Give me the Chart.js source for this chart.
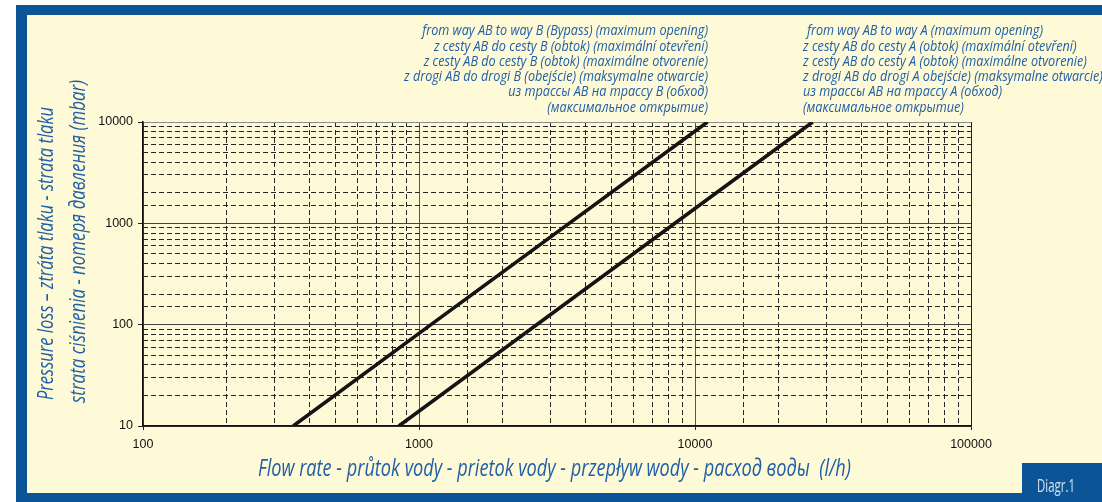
<!DOCTYPE html>
<html>
<head>
<meta charset="utf-8">
<script src="https://cdn.jsdelivr.net/npm/chart.js@4"></script>
<style>
html, body { margin: 0; padding: 0; background: #fff; }
#wrap { position: relative; width: 1102px; height: 502px; overflow: hidden; background: #fff; }
.panel { position: absolute; left: 16px; top: 5px; width: 1086px; height: 497px; background: #fef9d6; }
.bar { position: absolute; background: #0b5596; }
#chart { position: absolute; left: 0; top: 0; }
.txt { position: absolute; left: 0; top: 0; white-space: pre; font-family: "Open Sans", sans-serif;
       font-style: italic; color: #1f5fa6; transform-origin: 0 0; }
</style>
</head>
<body>
<div id="wrap">
  <div class="panel"></div>
  <div class="bar" style="left:16px;top:5px;width:1086px;height:10px"></div>
  <div class="bar" style="left:16px;top:5px;width:11px;height:497px"></div>
  <div class="bar" style="left:16px;top:493px;width:1086px;height:9px"></div>
  <div class="bar" style="left:1022px;top:463px;width:80px;height:39px"></div>
  <canvas id="chart" width="1102" height="502"></canvas>
</div>
<script>
// pressure loss curves (flow l/h, loss mbar)
const flowB = [350, 1000, 11100];   // AB -> B (bypass)
const lossB = [10, 82, 10000];
const flowA = [845, 10000, 26700];  // AB -> A
const lossA = [10, 1400, 10000];

const xMajor = [100, 1000, 10000, 100000];
const yMajor = [10, 100, 1000, 10000];

const xTitle = "Flow rate - průtok vody - prietok vody - przepływ wody - расход воды  (l/h)";
const yTitle = ["Pressure loss – ztráta tlaku - strata tlaku",
                "strata ciśnienia - потеря давления (mbar)"];
const notesB = ["from way AB to way B (Bypass) (maximum opening)",
                "z cesty AB do cesty B (obtok) (maximální otevření)",
                "z cesty AB do cesty B (obtok) (maximálne otvorenie)",
                "z drogi AB do drogi B (obejście) (maksymalne otwarcie)",
                "из трассы AB на трассу B (обход)",
                "(максимальное открытие)"];
const notesA = ["from way AB to way A (maximum opening)",
                "z cesty AB do cesty A (obtok) (maximální otevření)",
                "z cesty AB do cesty A (obtok) (maximálne otvorenie)",
                "z drogi AB do drogi A obejście) (maksymalne otwarcie)",
                "из трассы AB на трассу A (обход)",
                "(максимальное открытие)"];

const wrap = document.getElementById("wrap");

function makeText(str, size, italic) {
    const el = document.createElement("div");
    el.className = "txt";
    el.textContent = str;
    el.style.fontSize = size + "px";
    el.style.lineHeight = size + "px";
    if (!italic) el.style.fontStyle = "normal";
    wrap.appendChild(el);
    const c = document.createElement("canvas").getContext("2d");
    c.font = (italic ? "italic " : "") + size + 'px "Open Sans"';
    const m = c.measureText("Hg");
    el.base = (size - m.fontBoundingBoxAscent - m.fontBoundingBoxDescent) / 2 + m.fontBoundingBoxAscent;
    el.w = el.getBoundingClientRect().width;
    return el;
}

function place(el, x, baseline, s, align) {
    const left = align === "right" ? x - el.w * s : x;
    el.style.transform = `translate(${left}px, ${baseline - el.base}px) scaleX(${s})`;
}

// annotation blocks above the plot
const noteSize = 14;
const nb = notesB.map(t => makeText(t, noteSize, true));
const na = notesA.map(t => makeText(t, noteSize, true));
const noteScale = 304 / nb[3].w;
nb.forEach((el, i) => place(el, 708, 35.7 + 15.3 * i, noteScale, "right"));
na.forEach((el, i) => place(el, i === 0 ? 807 : 803, 35.7 + 15.3 * i, noteScale, "left"));

// x axis title
const xt = makeText(xTitle, 23, true);
place(xt, 258, 476.7, 593 / xt.w, "left");

// y axis title, two rotated lines
[[yTitle[0], 53, 400, 293], [yTitle[1], 85, 403, 323]].forEach(([t, bx, sy, len]) => {
    const el = makeText(t, 21, true);
    el.style.transform = `translate(${bx - el.base}px, ${sy}px) rotate(-90deg) scaleX(${len / el.w})`;
});

// figure tag
const tag = makeText("Diagr.1", 19, false);
tag.style.color = "#d5e3f1";
place(tag, 1037, 492, 38 / tag.w, "left");

const tickFont = { family: "'Liberation Sans', Arial, sans-serif", size: 12.5 };

const config = {
    type: "scatter",
    data: {
        datasets: [
            {
                label: "AB - B",
                data: flowB.map((x, i) => ({ x: x, y: lossB[i] })),
                showLine: true,
                borderColor: "#141414",
                borderWidth: 3.6,
                pointRadius: 0
            },
            {
                label: "AB - A",
                data: flowA.map((x, i) => ({ x: x, y: lossA[i] })),
                showLine: true,
                borderColor: "#141414",
                borderWidth: 3.6,
                pointRadius: 0
            }
        ]
    },
    options: {
        responsive: false,
        animation: false,
        layout: { padding: { top: 122, right: 131, left: 0, bottom: 0 } },
        plugins: {
            legend: { display: false },
            tooltip: { enabled: false }
        },
        scales: {
            x: {
                type: "logarithmic",
                position: "bottom",
                min: 100,
                max: 100000,
                afterBuildTicks: s => { s.ticks = xMajor.map(v => ({ value: v })); },
                afterFit: s => { s.height = 76; },
                ticks: {
                    autoSkip: false,
                    maxRotation: 0,
                    padding: 7,
                    color: "#111",
                    font: tickFont,
                    callback: v => String(v)
                },
                grid: {
                    color: c => c.tick && c.tick.value === 100000 ? "#222" : "#555",
                    lineWidth: 1,
                    tickLength: 4,
                    tickColor: "#222"
                },
                border: { color: "#111", width: 1.5 }
            },
            // dashed minor grid, vertical
            xMinor: {
                type: "logarithmic",
                position: "top",
                min: 100,
                max: 100000,
                afterFit: s => { s.height = 0; },
                ticks: { display: false, autoSkip: false },
                grid: {
                    color: c => c.tick && xMajor.includes(c.tick.value) ? "rgba(0,0,0,0)" : "#262626",
                    lineWidth: 1,
                    drawTicks: false
                },
                border: { display: false, dash: [5, 3] }
            },
            y: {
                type: "logarithmic",
                position: "left",
                min: 10,
                max: 10000,
                afterBuildTicks: s => { s.ticks = yMajor.map(v => ({ value: v })); },
                afterFit: s => { s.width = 143; },
                ticks: {
                    autoSkip: false,
                    padding: 5,
                    color: "#111",
                    font: tickFont,
                    callback: v => String(v)
                },
                grid: {
                    color: c => c.tick && c.tick.value === 10000 ? "#8a8a8a" : "#444",
                    lineWidth: 1,
                    tickLength: 5,
                    tickColor: "#222"
                },
                border: { color: "#111", width: 1.5 }
            },
            // dashed minor grid, horizontal
            yMinor: {
                type: "logarithmic",
                position: "right",
                min: 10,
                max: 10000,
                afterFit: s => { s.width = 0; },
                ticks: { display: false, autoSkip: false },
                grid: {
                    color: c => c.tick && yMajor.includes(c.tick.value) ? "rgba(0,0,0,0)" : "#262626",
                    lineWidth: 1,
                    drawTicks: false
                },
                border: { display: false, dash: [5, 3] }
            }
        }
    }
};

new Chart(document.getElementById("chart"), config);
</script>
</body>
</html>
